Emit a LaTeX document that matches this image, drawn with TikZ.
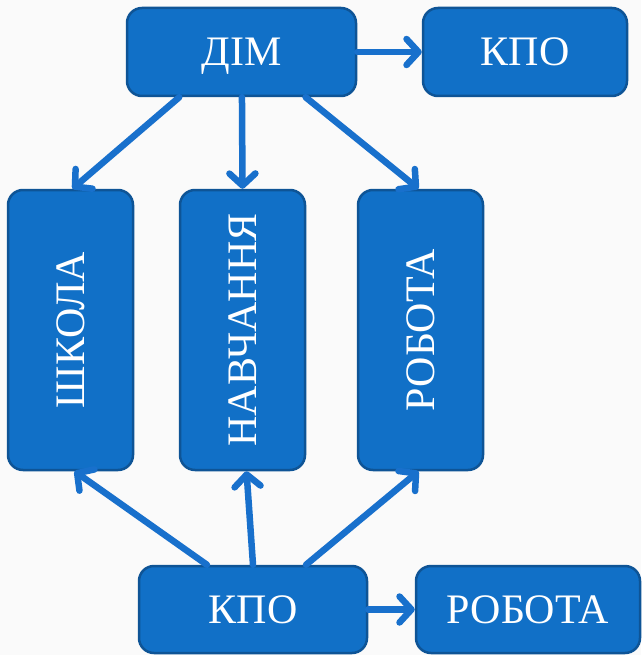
\documentclass[tikz,border=0pt]{standalone}
\usepackage{fontspec}
\setmainfont{Liberation Serif}
\usetikzlibrary{arrows.meta,calc}
\definecolor{boxfill}{RGB}{17,112,199}
\definecolor{boxline}{RGB}{14,84,150}
\definecolor{arrowcol}{RGB}{24,112,204}
\definecolor{bgcol}{RGB}{250,250,250}
\begin{document}
\begin{tikzpicture}[x=1pt,y=-1pt,
  box/.style={draw=boxline,line width=2.5pt,fill=boxfill,rounded corners=15pt,
    text=white,font=\fontsize{42}{42}\selectfont,inner sep=0pt,anchor=center,
    text height=28pt,text depth=0pt},
  hbox/.style={box,minimum width=#1,minimum height=88pt},
  vbox/.style={box,minimum width=125pt,minimum height=280pt},
  vtext/.style={rotate=90,text=white,font=\fontsize{42}{42}\selectfont,
    inner sep=0pt,text height=28pt,text depth=0pt},
  link/.style={draw=arrowcol,line width=6.5pt,line cap=round,
    -{Straight Barb[length=12pt,width=26pt,round]}}]
\fill[bgcol] (0,0) rectangle (641,655);
\useasboundingbox (0,0) rectangle (641,655);
\node[hbox=229pt] (dim) at (241.5,52) {ДІМ};
\node[hbox=204pt] (kpo1) at (525,52) {КПО};
\node[vbox] (shk) at (70.5,330) {};
\node[vbox] (nav) at (242.5,330) {};
\node[vbox] (rob) at (420.5,330) {};
\node[vtext] (shkt) at (shk.center) {ШКОЛА};
\node[vtext] (navt) at (nav.center) {НАВЧАННЯ};
\node[vtext] (robt) at (rob.center) {РОБОТА};
\node[box,minimum width=228pt,minimum height=87pt] (kpo2) at (253,609.5) {КПО};
\node[box,minimum width=224pt,minimum height=87pt] (rob2) at (528,609.5) {РОБОТА};
% top arrows
\draw[link] (dim.east) -- (kpo1.west);
\draw[link] ($(dim.south west)!0.231!(dim.south east)$) -- ($(shk.north)+(2,0)$);
\draw[link] ($(dim.south west)!0.502!(dim.south east)$) -- (nav.north);
\draw[link] ($(dim.south west)!0.777!(dim.south east)$) -- ($(rob.north)+(-2,0)$);
% bottom arrows
\draw[link] ($(kpo2.north west)!0.30!(kpo2.north east)$) -- ($(shk.south)+(4,0)$);
\draw[link] ($(kpo2.north west)!0.5!(kpo2.north east)$) -- ($(nav.south)+(4,0)$);
\draw[link] ($(kpo2.north west)!0.73!(kpo2.north east)$) -- ($(rob.south)+(-2,0)$);
\draw[link] (kpo2.east) -- (rob2.west);
\end{tikzpicture}
\end{document}
